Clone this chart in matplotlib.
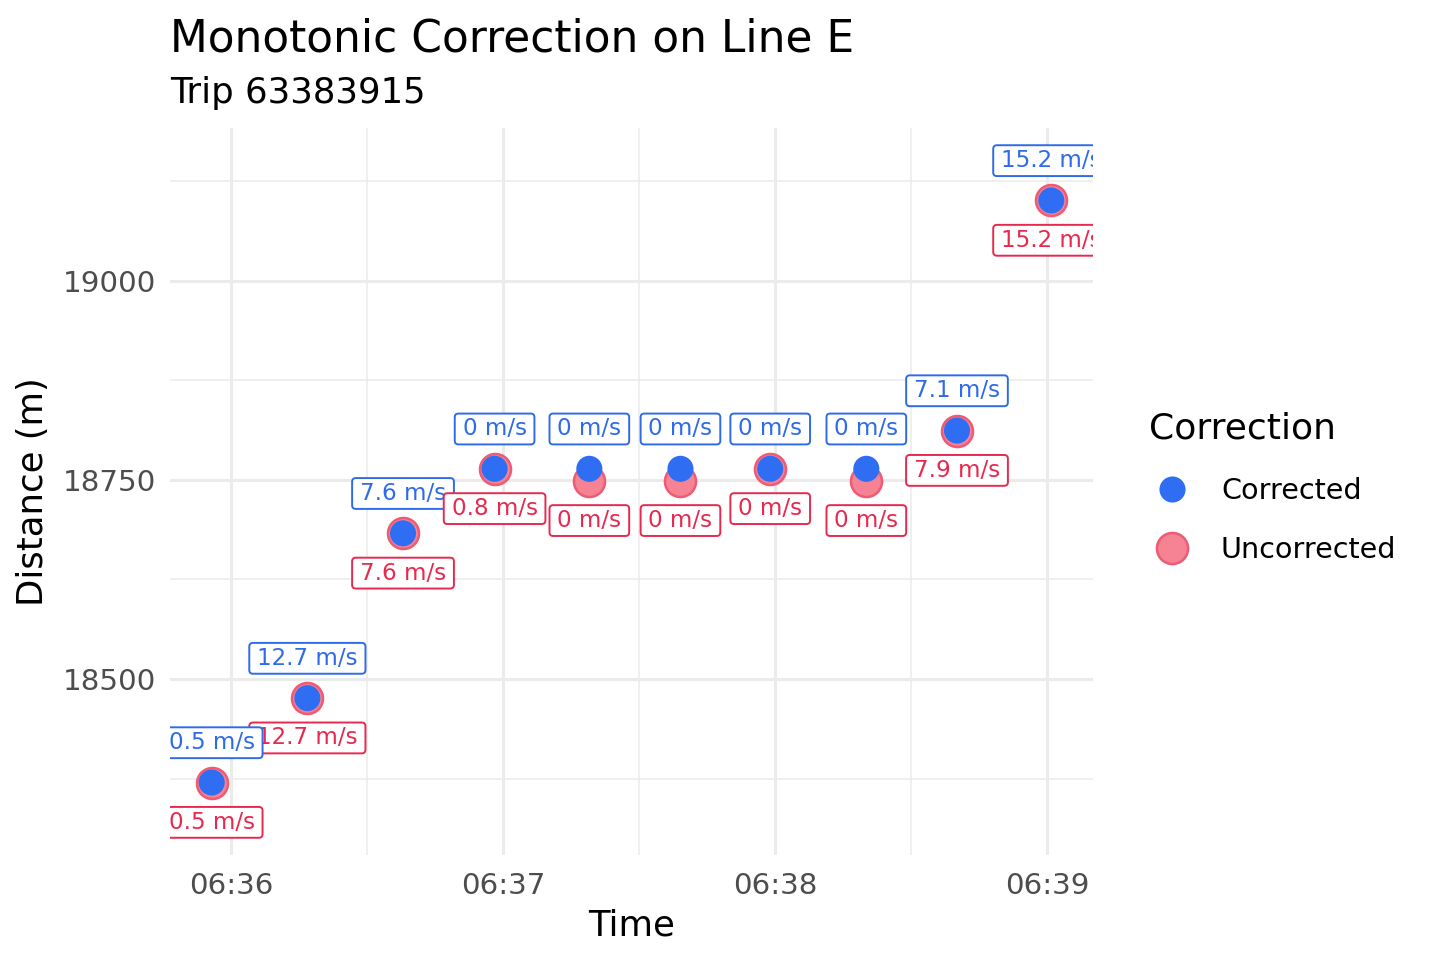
import matplotlib
matplotlib.use("Agg")
import matplotlib.pyplot as plt
import matplotlib.dates as mdates
from matplotlib.patches import BoxStyle
from matplotlib.lines import Line2D
import pandas as pd

# ---- data ----
times = ["06:35:55.7", "06:36:16.8", "06:36:37.9", "06:36:58.1", "06:37:19.0",
         "06:37:39.1", "06:37:58.9", "06:38:20.1", "06:38:40.1", "06:39:00.9"]
dist_corrected = [18370, 18476, 18683, 18764, 18764, 18764, 18764, 18764, 18812, 19101]
dist_uncorrected = [18370, 18476, 18683, 18764, 18749, 18749, 18764, 18749, 18812, 19101]
speed_corrected = ["0.5 m/s", "12.7 m/s", "7.6 m/s", "0 m/s", "0 m/s", "0 m/s", "0 m/s", "0 m/s", "7.1 m/s", "15.2 m/s"]
speed_uncorrected = ["0.5 m/s", "12.7 m/s", "7.6 m/s", "0.8 m/s", "0 m/s", "0 m/s", "0 m/s", "0 m/s", "7.9 m/s", "15.2 m/s"]
label_nudge = 50
title = "Monotonic Correction on Line E"
subtitle = "Trip 63383915"

t = pd.to_datetime(["2024-01-01 " + s for s in times])

BLUE = "#2F6EF3"
BLUE_TXT = "#2E6BEA"
RED_TXT = "#E8294F"
PINK_FACE = "#F58393"
PINK_EDGE = "#EF5A74"

fig = plt.figure(figsize=(7.2, 4.8), dpi=200)
ax = fig.add_axes([170/1440, 1-855/960, (1093-170)/1440, (855-128)/960])

xmin = pd.Timestamp("2024-01-01 06:35:46.5")
xmax = pd.Timestamp("2024-01-01 06:39:10.1")
ax.set_xlim(xmin, xmax)
ax.set_ylim(18279, 19192)

ax.xaxis.set_major_locator(mdates.MinuteLocator())
ax.xaxis.set_minor_locator(mdates.SecondLocator(bysecond=[30]))
ax.xaxis.set_major_formatter(mdates.DateFormatter("%H:%M"))
ax.set_yticks([18500, 18750, 19000])
ax.set_yticks([18375, 18625, 18875, 19125], minor=True)
ax.grid(True, which="major", color="#EBEBEB", linewidth=1.1)
ax.grid(True, which="minor", color="#EBEBEB", linewidth=0.55)
ax.set_axisbelow(True)
for sp in ax.spines.values():
    sp.set_visible(False)
ax.tick_params(which="both", length=0)
ax.tick_params(axis="both", labelsize=10.6, labelcolor="#4D4D4D")
ax.tick_params(axis="x", pad=6)
ax.tick_params(axis="y", pad=5)
ax.set_xlabel("Time", fontsize=12.8, labelpad=3)
ax.set_ylabel("Distance (m)", fontsize=12.8, labelpad=4.5)

ax.scatter(t, dist_uncorrected, s=125, color=PINK_FACE, edgecolors=PINK_EDGE,
           linewidths=0.9, zorder=3, clip_on=False)
ax.scatter(t, dist_corrected, s=88, color=BLUE, edgecolors="none", zorder=4, clip_on=False)

_round = BoxStyle.Round(pad=0, rounding_size=0.16)


def label_box(x0, y0, width, height, mutation_size):
    padx = 0.34 * mutation_size
    pady = 0.17 * mutation_size
    return _round(x0 - padx, y0 - pady, width + 2 * padx, height + 2 * pady, mutation_size)


n = len(times)
for i in range(n):
    # ordering so overlaps look like the reference
    zc = 6 if i < 3 else 5
    zu = 5 if i < 3 else 6
    ax.text(t[i], dist_uncorrected[i] - label_nudge, speed_uncorrected[i],
            ha="center", va="center", fontsize=8.3, color=RED_TXT, zorder=zu,
            clip_on=True,
            bbox=dict(boxstyle=label_box, facecolor="white", edgecolor=RED_TXT, linewidth=0.7))
    ax.text(t[i], dist_corrected[i] + label_nudge, speed_corrected[i],
            ha="center", va="center", fontsize=8.3, color=BLUE_TXT, zorder=zc,
            clip_on=True,
            bbox=dict(boxstyle=label_box, facecolor="white", edgecolor=BLUE_TXT, linewidth=0.7))

fig.text(170/1440, 1-51.7/960, title, fontsize=15.8, ha="left", va="baseline")
fig.text(170/1440, 1-102.5/960, subtitle, fontsize=12.8, ha="left", va="baseline")

handles = [
    Line2D([], [], marker="o", linestyle="none", markersize=9.4, markerfacecolor=BLUE,
           markeredgecolor="none", label="Corrected"),
    Line2D([], [], marker="o", linestyle="none", markersize=11.2, markerfacecolor=PINK_FACE,
           markeredgecolor=PINK_EDGE, markeredgewidth=0.9, label="Uncorrected"),
]
leg = fig.legend(handles=handles, title="Correction", loc="upper left",
                 bbox_to_anchor=(1138/1440, 1-400/960), frameon=False,
                 fontsize=10.3, title_fontsize=13, labelspacing=1.1,
                 handletextpad=0.9, handlelength=1.6, borderaxespad=0)
leg._legend_box.align = "left"

fig.savefig("out.png", dpi=200, facecolor="white")
